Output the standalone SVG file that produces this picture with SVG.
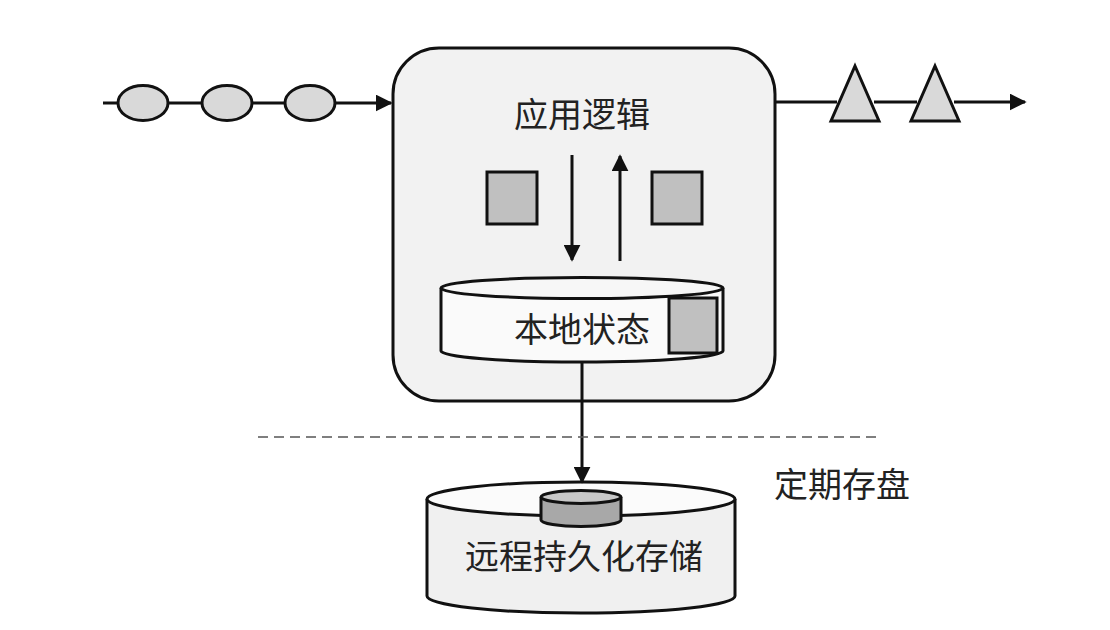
<svg xmlns="http://www.w3.org/2000/svg" width="1110" height="630" viewBox="0 0 1110 630">
<defs>
<style>
.ln{stroke:#111;stroke-width:3;fill:none}
.sh{stroke:#111;stroke-width:3}
.txt{font-family:"Noto Sans CJK SC","Noto Sans",sans-serif;font-size:34px;fill:#222;text-anchor:middle}
</style>
<marker id="ahs" viewBox="0 0 10 10" refX="9" refY="5" markerWidth="17" markerHeight="17" markerUnits="userSpaceOnUse" preserveAspectRatio="none" orient="auto">
<path d="M0,0 L10,5 L0,10 z" fill="#111"/>
</marker>
</defs>
<rect width="1110" height="630" fill="#fff"/>
<g id="input-events">
<ellipse class="sh" cx="143" cy="103" rx="25" ry="17.5" fill="#d9d9d9"/>
<ellipse class="sh" cx="227" cy="103" rx="25" ry="17.5" fill="#d9d9d9"/>
<ellipse class="sh" cx="310" cy="103" rx="25" ry="17.5" fill="#d9d9d9"/>
</g>
<g id="output-events">
<polygon class="sh" points="855,66 879,121 831,121" fill="#d9d9d9"/>
<polygon class="sh" points="935,66 959,121 911,121" fill="#d9d9d9"/>
</g>
<g id="operator">
<rect class="sh" x="393" y="48" width="382" height="353" rx="46" ry="46" fill="#f2f2f2"/>
<text class="txt" x="582" y="127">应用逻辑</text>
<rect class="sh" x="487" y="172" width="50" height="52" fill="#c0c0c0" stroke-width="2.5"/>
<rect class="sh" x="652" y="172" width="50" height="52" fill="#c0c0c0" stroke-width="2.5"/>
</g>
<g id="local-state">
<path class="sh" d="M441,288 L441,351 A141,11 0 0 0 723,351 L723,288" fill="#fafafa"/>
<ellipse class="sh" cx="582" cy="288" rx="141" ry="10.5" fill="#f7f7f7"/>
<text class="txt" x="582" y="342">本地状态</text>
<rect class="sh" x="669" y="298" width="48" height="55" fill="#c0c0c0" stroke-width="2.5"/>
</g>
<g id="remote-storage">
<path class="sh" d="M427,499 L427,596 A154,17 0 0 0 735,596 L735,499" fill="#f0f0f0"/>
<ellipse class="sh" cx="581" cy="499" rx="154" ry="17" fill="#fbfbfb"/>
<path class="sh" d="M541,497 L541,520 A40,6.5 0 0 0 621,520 L621,497" fill="#a8a8a8" stroke-width="2.5"/>
<ellipse class="sh" cx="581" cy="497" rx="40" ry="6.5" fill="#c8c8c8" stroke-width="2.5"/>
<text class="txt" x="584" y="569">远程持久化存储</text>
</g>
<g id="checkpoint-label">
<text class="txt" x="842" y="497">定期存盘</text>
</g>
<g id="connectors">
<line class="ln" x1="103" y1="103" x2="118" y2="103"/>
<line class="ln" x1="168" y1="103" x2="202" y2="103"/>
<line class="ln" x1="252" y1="103" x2="285" y2="103"/>
<line class="ln" x1="335" y1="103" x2="391" y2="103" marker-end="url(#ahs)"/>
<line class="ln" x1="775" y1="102" x2="837" y2="102"/>
<line class="ln" x1="874" y1="102" x2="917" y2="102"/>
<line class="ln" x1="954" y1="102" x2="1025" y2="102" marker-end="url(#ahs)"/>
<line class="ln" x1="572" y1="155" x2="572" y2="260" marker-end="url(#ahs)"/>
<line class="ln" x1="620" y1="261" x2="620" y2="156" marker-end="url(#ahs)"/>
<line class="ln" x1="582" y1="363" x2="582" y2="482" marker-end="url(#ahs)"/>
<line x1="258" y1="437" x2="882" y2="437" stroke="#555" stroke-width="1.5" stroke-dasharray="10,6"/>
</g>
</svg>
